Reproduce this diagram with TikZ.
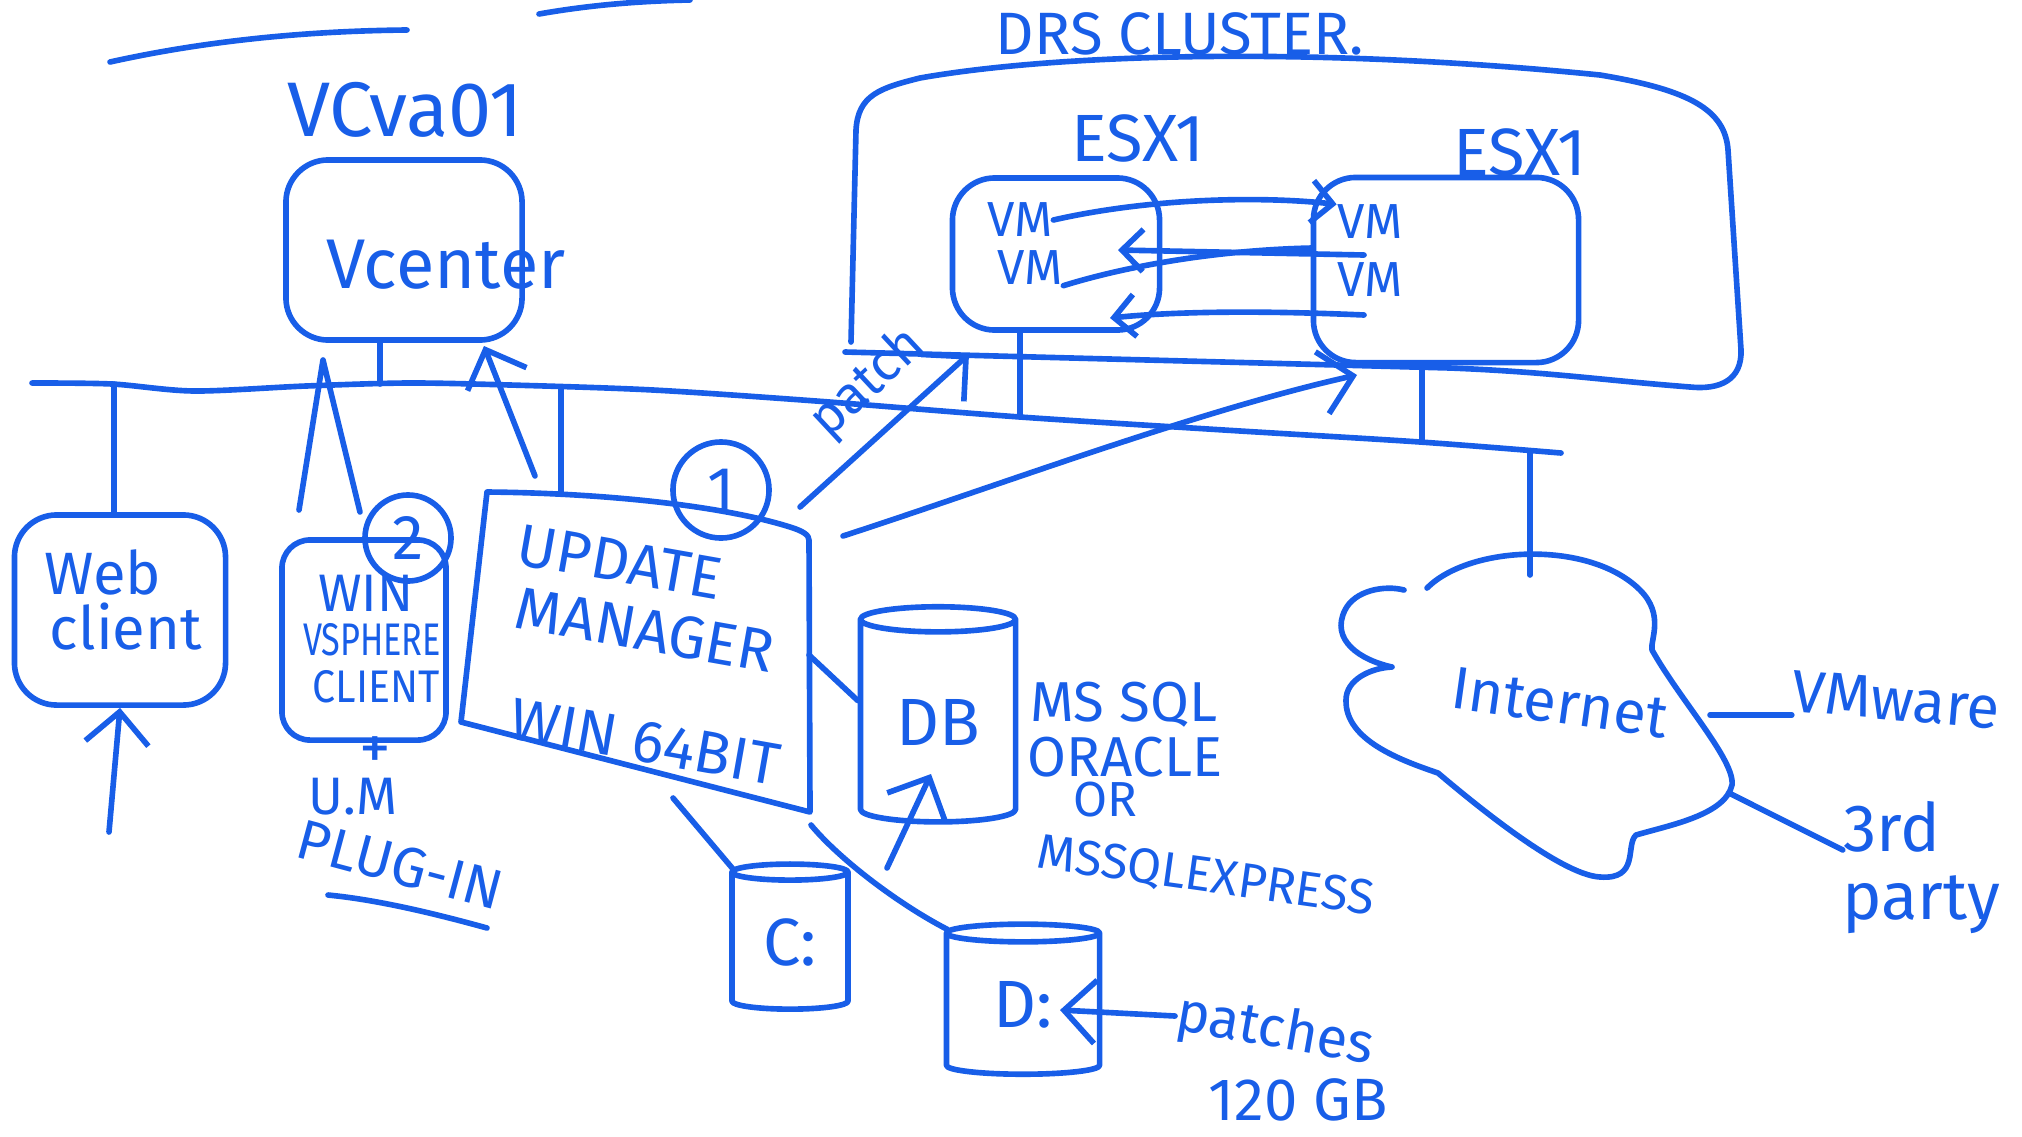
\documentclass[tikz,border=0pt]{standalone}
\usepackage{fontspec}
\setmainfont{Fira Sans}
\usetikzlibrary{arrows.meta, shapes.geometric, positioning}
\definecolor{pen}{RGB}{24,94,232}

\tikzset{
  ink/.style={draw=pen, line width=1.6pt, line cap=round, line join=round},
  hand/.style={text=pen, inner sep=0pt, font=\fontsize{#1}{#1}\selectfont},
  hand/.default=18,
  barbed/.style={-{Straight Barb[length=9pt, width=18pt]}},
  barbsmall/.style={-{Straight Barb[length=6pt, width=12pt]}},
  box/.style={ink, rounded corners=12pt, inner sep=0pt},
  drum/.style={ink, cylinder, shape border rotate=90, aspect=0.3, inner sep=0pt},
  circ/.style={ink, circle, inner sep=0pt}
}

\begin{document}
\begin{tikzpicture}[x=0.01cm, y=-0.01cm]
\useasboundingbox (0,0) rectangle (2022,1136);

% stray strokes at the top
\draw[ink] (110,62) .. controls (200,42) and (300,31) .. (407,30);
\draw[ink] (539,14) .. controls (590,5) and (640,1) .. (690,0);

% vcenter appliance
\node[hand=22] (vcva) at (405,110) {VCva01};
\node[box, minimum width=2.36cm, minimum height=1.8cm] (vc) at (404,250) {};
\node[hand=20] (vctxt) at (446,265) {Vcenter};

% network
\draw[ink] plot[smooth, tension=0.5] coordinates {(32,383) (112,384) (194,391) (306,386) (408,383) (510,385) (653,390) (816,401) (1020,417) (1224,430) (1420,442) (1561,453)};
\coordinate (bw) at (114,384);
\coordinate (bv) at (380,384);
\coordinate (bu) at (561,388);
\coordinate (bh1) at (1020,417);
\coordinate (bh2) at (1422,441);
\coordinate (bi) at (1530,451);

% web client
\node[box, minimum width=2.11cm, minimum height=1.9cm] (web) at (120,610) {};
\node[hand=17] (webl1) at (103,572) {Web};
\node[hand=17] (webl2) at (126,627) {client};
\draw[ink] (bw) -- (web.north -| bw);
\coordinate (webin) at (109,832);
\draw[ink, barbed] (webin) -- (web.south);

% vsphere client
\node[box, rounded corners=8pt, minimum width=1.64cm, minimum height=2.0cm] (vsc) at (364,640) {};
\node[hand=15] (vsl1) at (366,593) {WIN};
\node[hand=13, xscale=0.75] (vsl2) at (372,640) {VSPHERE};
\node[hand=13, xscale=0.9] (vsl3) at (376,687) {CLIENT};
\node[circ, minimum size=0.86cm, hand=18] (c2) at (408,538) {2};
\node[hand=18] (plus) at (375,753) {+};
\node[hand=15] (uml) at (353,797) {U.M};
\node[hand=16, rotate=-15] (plugin) at (400,865) {PLUG-IN};
\draw[ink] (328,895) .. controls (380,900) and (440,915) .. (487,928);
\coordinate (vsa) at (299,510);
\coordinate (apex) at (323,360);
\coordinate (vsb) at (360,512);
\draw[ink] (vsa) -- (apex) -- (vsb);
\draw[ink] (vc.south -| bv) -- (bv);

% update manager
\coordinate (um-nw) at (487,492);
\coordinate (um-ne) at (809,540);
\coordinate (um-se) at (810,812);
\coordinate (um-sw) at (461,722);
\draw[ink] (um-sw) -- (um-nw) .. controls (600,493) and (720,505) .. (790,527)
  .. controls (803,531) and (809,535) .. (um-ne) -- (um-se) -- cycle;
\node[hand=17, rotate=-10] (upd1) at (620,562) {UPDATE};
\node[hand=17, rotate=-10] (upd2) at (645,630) {MANAGER};
\node[hand=17, rotate=-10] (upd3) at (645,742) {WIN 64BIT};
\node[circ, minimum size=0.96cm, hand=18] (c1) at (721,490) {1};
\draw[ink] (bu |- um-nw) -- (bu);
\coordinate (umvc) at (535,476);
\coordinate (vcin) at (484,346);
\draw[ink, barbed] (umvc) -- (vcin);

% DRS cluster
\node[hand=17] (drs) at (1180,34) {DRS CLUSTER.};
\draw[ink] (851,342) -- (856,130) .. controls (858,95) and (880,88) .. (920,78)
  .. controls (1050,55) and (1300,45) .. (1600,75)
  .. controls (1690,90) and (1725,110) .. (1728,150) -- (1741,350)
  .. controls (1742,380) and (1720,390) .. (1690,387)
  .. controls (1600,380) and (1550,372) .. (1450,368) -- (845,352);
\node[hand=19] (esxal) at (1138,138) {ESX1};
\node[hand=19] (esxbl) at (1520,152) {ESX1};
\node[box, minimum width=2.07cm, minimum height=1.52cm] (esxa) at (1056,254) {};
\node[box, minimum width=2.65cm, minimum height=1.85cm] (esxb) at (1446,270) {};
\node[hand=14] (vma1) at (1020,220) {VM};
\node[hand=14] (vma2) at (1030,268) {VM};
\node[hand=14] (vmb1) at (1370,222) {VM};
\node[hand=14] (vmb2) at (1370,280) {VM};
\draw[ink, barbsmall] (vma1.east) .. controls (1150,198) and (1260,196) .. (vmb1.north west);
\coordinate (mvb) at (1364,255);
\coordinate (mva) at (1118,250);
\draw[ink, barbsmall] (mvb) -- (mva);
\draw[ink] (vma2.south east) .. controls (1130,265) and (1220,250) .. (1312,248);
\coordinate (mvb2) at (1364,315);
\coordinate (mva2) at (1110,318);
\draw[ink, barbsmall] (mvb2) .. controls (1250,310) and (1170,312) .. (mva2);
\draw[ink] (esxa.south -| bh1) -- (bh1);
\draw[ink] (esxb.south -| bh2) -- (bh2);

% patch paths
\coordinate (umpatch) at (800,507);
\coordinate (patchin) at (969,354);
\draw[ink, barbed] (umpatch) -- (patchin);
\node[hand=15, rotate=43] (patchlbl) at (868,384) {patch};
\coordinate (umb) at (843,536);
\coordinate (esxbin) at (1357,375);
\draw[ink, barbed] (umb) .. controls (1000,485) and (1200,410) .. (esxbin);

% databases and disks
\node[drum, minimum width=1.55cm, minimum height=2.15cm, hand=19] (db) at (938,722) {DB};
\node[drum, minimum width=1.16cm, minimum height=1.45cm, hand=19] (cdrv) at (790,942) {C:};
\node[drum, minimum width=1.53cm, minimum height=1.50cm, hand=19] (ddrv) at (1023,1005) {D:};
\coordinate (umdb) at (809,655);
\draw[ink] (umdb) -- (db.165);
\coordinate (umc) at (673,798);
\draw[ink] (umc) -- (cdrv.128);
\coordinate (umd) at (811,825);
\draw[ink] (umd) .. controls (840,860) and (900,905) .. (ddrv.135);
\coordinate (dbup) at (887,868);
\draw[ink, barbed] (dbup) -- ([shift={(-7,52)}]db.center);
\node[hand=16] (dbl1) at (1124,705) {MS SQL};
\node[hand=16] (dbl2) at (1125,757) {ORACLE};
\node[hand=14] (dbl3) at (1105,800) {OR};
\node[hand=14, rotate=-8] (dbl4) at (1206,877) {MSSQLEXPRESS};
\node[hand=16, rotate=-10] (patches) at (1275,1032) {patches};
\node[hand=17] (gb) at (1298,1100) {120 GB};
\coordinate (pin) at (1175,1016);
\coordinate (dtip) at (1060,1010);
\draw[ink, barbed] (pin) -- (dtip);

% internet
\draw[ink] (1427,588) .. controls (1470,545) and (1590,540) .. (1640,590)
  .. controls (1665,615) and (1650,640) .. (1652,650)
  .. controls (1680,700) and (1735,760) .. (1732,785)
  .. controls (1725,815) and (1670,825) .. (1636,835)
  .. controls (1625,845) and (1640,880) .. (1600,877)
  .. controls (1560,875) and (1470,800) .. (1438,773)
  .. controls (1400,760) and (1345,740) .. (1346,700)
  .. controls (1346,680) and (1370,668) .. (1392,667)
  .. controls (1360,660) and (1330,640) .. (1345,610)
  .. controls (1355,590) and (1385,585) .. (1404,590);
\node[hand=17, rotate=-8] (net) at (1560,703) {Internet};
\draw[ink] (bi) -- (bi |- 0,575);
\node[hand=17, rotate=-5] (vmw) at (1896,700) {VMware};
\node[hand=19] (third) at (1892,827) {3rd};
\node[hand=19] (party) at (1921,905) {party};
\coordinate (netv) at (1710,715);
\coordinate (net3) at (1729,793);
\draw[ink] (netv) -- (vmw.west |- netv);
\draw[ink] (net3) -- (third.205);
\end{tikzpicture}
\end{document}
